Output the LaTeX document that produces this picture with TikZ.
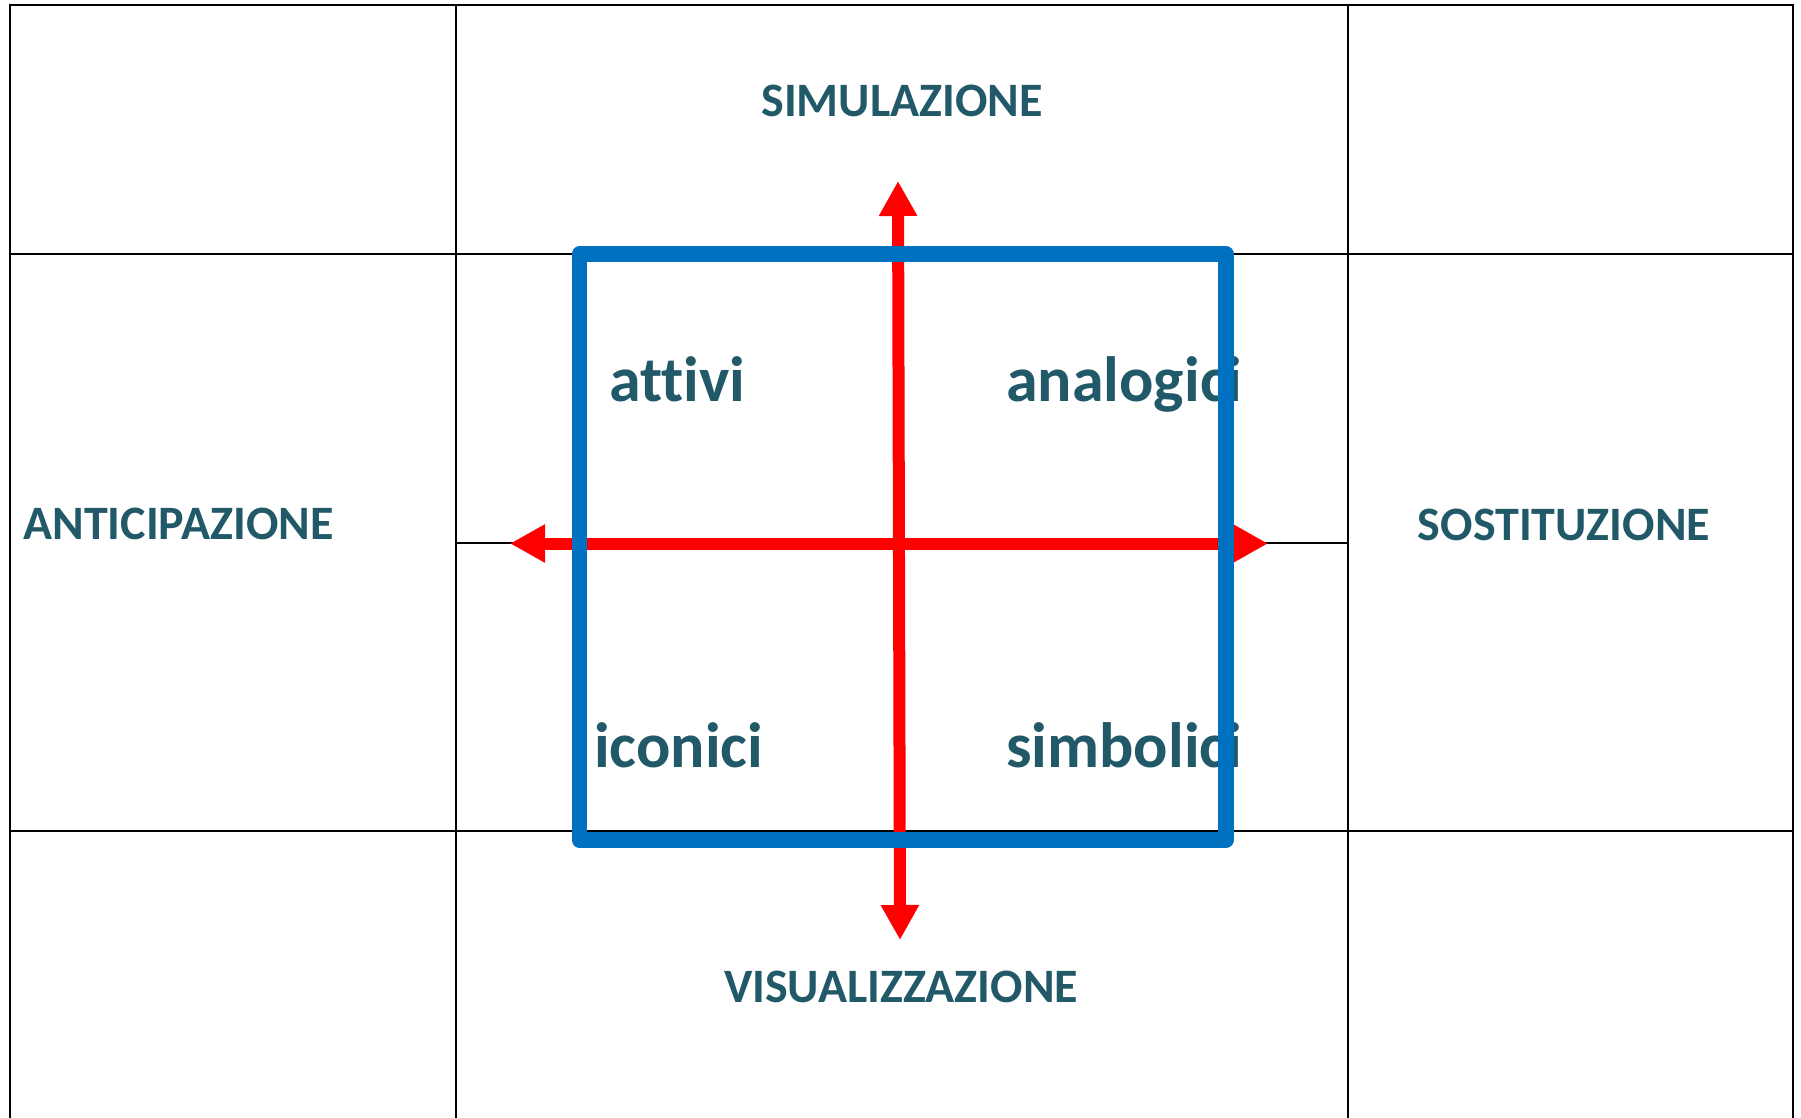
\documentclass[tikz,border=0pt]{standalone}
\usepackage{fontspec}
\setmainfont{Carlito}[Ligatures={NoCommon,NoRequired,NoContextual}]
\usetikzlibrary{arrows.meta}
\definecolor{txtteal}{RGB}{33,89,104}
\definecolor{boxblue}{RGB}{0,112,192}
\definecolor{arrred}{RGB}{255,0,0}
\tikzset{
  gridline/.style={draw=black,line width=2pt},
  caplabel/.style={text=txtteal,font=\bfseries\fontsize{48}{58}\selectfont,inner sep=0pt,anchor=base},
  quadlabel/.style={text=txtteal,font=\bfseries\fontsize{64}{76}\selectfont,inner sep=0pt,anchor=base west},
  axisarrow/.style={draw=arrred,line width=12pt,{Triangle[length=35pt,width=36pt,fill=arrred]}-{Triangle[length=35pt,width=36pt,fill=arrred]}},
  bluebox/.style={draw=boxblue,line width=15.5pt,line join=round}
}
\begin{document}
\begin{tikzpicture}[x=1pt,y=-1pt]
\useasboundingbox (0,0) rectangle (1801,1118);
\fill[white] (0,0) rectangle (1801,1118);
% grid
\draw[gridline] (10,1118) -- (10,5) -- (1793,5) -- (1793,1118);
\draw[gridline] (456,5) -- (456,1118);
\draw[gridline] (1348,5) -- (1348,1118);
\draw[gridline] (10,254) -- (1793,254);
\draw[gridline] (10,831) -- (1793,831);
\draw[gridline] (456,543) -- (1348,543);
% labels
\node[caplabel] (sim) at (902,117) {SIMULAZIONE};
\node[caplabel] (vis) at (901,1002) {VISUALIZZAZIONE};
\node[caplabel] (ant) at (178.5,539) {ANTICIPAZIONE};
\node[caplabel] (sos) at (1564,540) {SOSTITUZIONE};
\node[quadlabel] (att) at (609,401) {attivi};
\node[quadlabel] (ana) at (1006,401) {analogici};
\node[quadlabel] (ico) at (594,767) {iconici};
\node[quadlabel] (sym) at (1006,767) {simbolici};
% axes
\coordinate (top) at (898,181);
\coordinate (bot) at (900,940);
\coordinate (lft) at (510,543.5);
\coordinate (rgt) at (1268,543.5);
\draw[axisarrow] (bot) -- (top);
\draw[axisarrow] (lft) -- (rgt);
% blue square
\draw[bluebox] (579.5,254) rectangle (1226,840);
\end{tikzpicture}
\end{document}
